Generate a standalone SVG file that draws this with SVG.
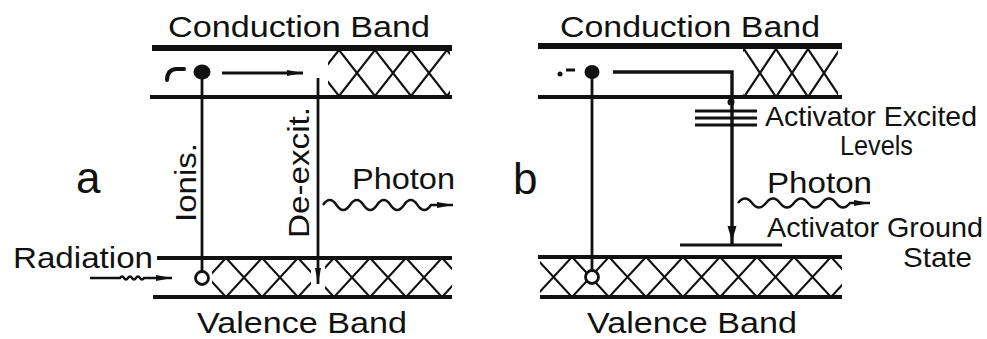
<svg xmlns="http://www.w3.org/2000/svg" width="987" height="339" viewBox="0 0 987 339">
<style>
.lbl{font-family:"Liberation Sans",Arial,sans-serif;font-size:30px;fill:#111}
.big{font-size:44px}
.sm{font-size:28px}
.edgeT{stroke:#111;stroke-width:6;fill:none}
.edge{stroke:#111;stroke-width:4;fill:none}
.ln{stroke:#111;stroke-width:2.8;fill:none}
.lvl{stroke:#111;stroke-width:3;fill:none}
.wave{stroke:#111;stroke-width:2.4;fill:none}
.hatch{stroke:#111;stroke-width:2.2}
.ink{fill:#111}
</style>
<defs>
<marker id="ah" viewBox="0 0 16 8" refX="16" refY="4" markerWidth="16" markerHeight="8" markerUnits="userSpaceOnUse" orient="auto">
<path d="M0 1 L16 4 L0 7 Z" fill="#111"/>
</marker>
<pattern id="hCa" patternUnits="userSpaceOnUse" x="339" y="50" width="36" height="46"><path class="hatch" d="M0 0 L36 46 M0 46 L36 0"/></pattern>
<pattern id="hVa" patternUnits="userSpaceOnUse" x="226" y="258" width="36" height="39"><path class="hatch" d="M0 0 L36 39 M0 39 L36 0"/></pattern>
<pattern id="hCb" patternUnits="userSpaceOnUse" x="744" y="49" width="32" height="48"><path class="hatch" d="M0 0 L32 48 M0 48 L32 0"/></pattern>
<pattern id="hVb" patternUnits="userSpaceOnUse" x="535" y="257" width="37" height="40"><path class="hatch" d="M0 0 L37 40 M0 40 L37 0"/></pattern>
</defs>
<rect width="987" height="339" fill="#fff"/>

<!-- Panel a -->
<g id="a-conduction-band">
<rect x="328" y="50" width="122" height="46" fill="url(#hCa)"/>
<line class="edgeT" x1="152" y1="48" x2="452" y2="48"/>
<line class="edge" x1="150" y1="97" x2="452" y2="97"/>
<text class="lbl" x="168" y="37" textLength="262" lengthAdjust="spacingAndGlyphs">Conduction Band</text>
</g>
<g id="a-valence-band">
<rect x="212" y="258" width="240" height="39" fill="url(#hVa)"/>
<rect x="311" y="259" width="14" height="37" fill="#fff"/>
<line class="edge" x1="157" y1="258" x2="452" y2="258"/>
<line class="edge" x1="153" y1="297" x2="452" y2="297"/>
<text class="lbl" x="197" y="333" textLength="210" lengthAdjust="spacingAndGlyphs">Valence Band</text>
</g>
<g id="a-electron">
<path d="M167 80 Q167 70 176 69 L184 69" stroke="#111" stroke-width="4" fill="none" stroke-linecap="round"/>
<ellipse class="ink" cx="202" cy="72" rx="8.5" ry="7.5"/>
</g>
<g id="a-hole">
<circle cx="202" cy="278" r="6.5" fill="#fff" stroke="#111" stroke-width="2.8"/>
</g>
<g id="a-labels">
<text class="lbl big" x="76" y="193">a</text>
<text class="lbl" x="13" y="268" textLength="140" lengthAdjust="spacingAndGlyphs">Radiation</text>
<text class="lbl" transform="translate(196,222) rotate(-90)" textLength="79" lengthAdjust="spacingAndGlyphs">Ionis.</text>
<text class="lbl" transform="translate(309,238) rotate(-90)" textLength="131" lengthAdjust="spacingAndGlyphs">De-excit.</text>
<text class="lbl" x="352" y="189" textLength="103" lengthAdjust="spacingAndGlyphs">Photon</text>
</g>

<!-- Panel b -->
<g id="b-conduction-band">
<rect x="743" y="49" width="95" height="48" fill="url(#hCb)"/>
<line class="edgeT" x1="538" y1="46" x2="842" y2="46"/>
<line class="edge" x1="538" y1="97" x2="842" y2="97"/>
<text class="lbl" x="560" y="37" textLength="260" lengthAdjust="spacingAndGlyphs">Conduction Band</text>
</g>
<g id="b-valence-band">
<rect x="540" y="257" width="302" height="40" fill="url(#hVb)"/>
<line class="edge" x1="538" y1="257" x2="842" y2="257"/>
<line class="edge" x1="540" y1="297" x2="842" y2="297"/>
<text class="lbl" x="587" y="333" textLength="210" lengthAdjust="spacingAndGlyphs">Valence Band</text>
</g>
<g id="b-electron">
<circle class="ink" cx="560" cy="74" r="2.5"/>
<line x1="566" y1="70" x2="575" y2="70" stroke="#111" stroke-width="3"/>
<ellipse class="ink" cx="592" cy="72" rx="7.5" ry="7"/>
</g>
<g id="b-hole">
<circle cx="592" cy="277" r="6.5" fill="#fff" stroke="#111" stroke-width="2.8"/>
</g>
<g id="b-activator-excited">
<line class="lvl" x1="695" y1="111" x2="757" y2="111"/>
<line class="lvl" x1="695" y1="118" x2="757" y2="118"/>
<line class="lvl" x1="695" y1="125" x2="757" y2="125"/>
<text class="lbl sm" x="765" y="126" textLength="212" lengthAdjust="spacingAndGlyphs">Activator Excited</text>
<text class="lbl sm" x="840" y="155" textLength="73" lengthAdjust="spacingAndGlyphs">Levels</text>
</g>
<g id="b-activator-ground">
<line class="lvl" x1="680" y1="245" x2="782" y2="245"/>
<text class="lbl sm" x="767" y="237" textLength="216" lengthAdjust="spacingAndGlyphs">Activator Ground</text>
<text class="lbl sm" x="903" y="267" textLength="69" lengthAdjust="spacingAndGlyphs">State</text>
</g>
<g id="b-labels">
<text class="lbl big" x="513" y="194">b</text>
<text class="lbl" x="767" y="193" textLength="105" lengthAdjust="spacingAndGlyphs">Photon</text>
</g>

<!-- Connectors -->
<g id="connectors">
<line class="ln" x1="222" y1="73" x2="303" y2="73" marker-end="url(#ah)"/>
<line class="ln" x1="202" y1="72" x2="202" y2="271"/>
<line class="ln" x1="318" y1="78" x2="318" y2="284" marker-end="url(#ah)"/>
<path class="wave" d="M90 278 L120 278 q2 -3 4 0 t4 0 t4 0 t4 0 t4 0 t4 0 L172 278" stroke-width="1.8" marker-end="url(#ah)"/>
<path class="wave" d="M323 205 q6.75 -10 13.5 0 t13.5 0 t13.5 0 t13.5 0 t13.5 0 t13.5 0 t13.5 0 t13.5 0 L453 205" marker-end="url(#ah)"/>
<line class="ln" x1="592" y1="72" x2="592" y2="270"/>
<path d="M613 72 H732 V245" stroke="#111" stroke-width="3.4" fill="none"/>
<circle class="ink" cx="731" cy="102" r="3.5"/>
<path class="ink" d="M727.5 226 L736.5 226 L732 241 Z"/>
<path class="wave" d="M738 203 q7 -9 14 0 t14 0 t14 0 t14 0 t14 0 t14 0 t14 0 t14 0 L870 203" marker-end="url(#ah)"/>
</g>
</svg>
